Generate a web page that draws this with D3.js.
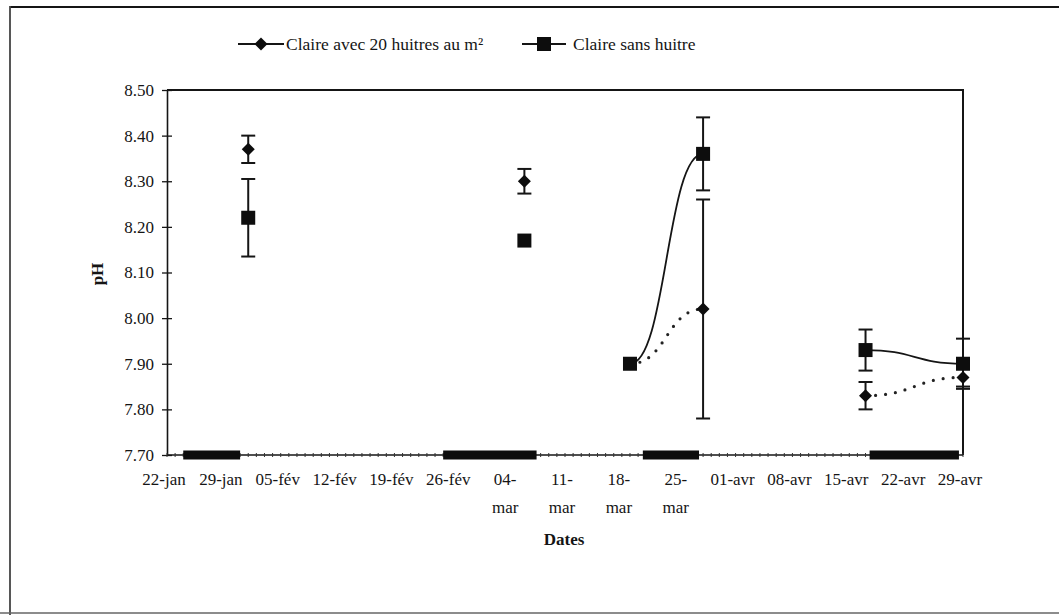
<!DOCTYPE html>
<html>
<head>
<meta charset="utf-8">
<script src="https://cdn.jsdelivr.net/npm/d3@7"></script>
<style>
  body { margin: 0; background: #fff; }
  svg { display: block; }
  text { font-family: "Liberation Serif", "Times New Roman", serif; fill: #151515; }
</style>
</head>
<body>
<svg id="chart" width="1059" height="615"></svg>
<script>
// ---- data ----
const seriesNames = ["Claire avec 20 huitres au m²", "Claire sans huitre"];
const sampleDates = ["2000-02-01", "2000-03-06", "2000-03-19", "2000-03-28", "2000-04-17", "2000-04-29"];
const phOysters   = [8.37, 8.30, 7.90, 8.02, 7.83, 7.87];
const errOysters  = [0.03, 0.027, 0, 0.24, 0.03, 0.02];
const phEmpty     = [8.22, 8.17, 7.90, 8.36, 7.93, 7.90];
const errEmpty    = [0.085, 0, 0, 0.08, 0.045, 0.055];
// sample indices joined by a smoothed line
const linkedGroups = [[2, 3], [4, 5]];
const tickLabels = ["22-jan", "29-jan", "05-fév", "12-fév", "19-fév", "26-fév", "04-mar", "11-mar",
                    "18-mar", "25-mar", "01-avr", "08-avr", "15-avr", "22-avr", "29-avr"];
const yTicks = [7.70, 7.80, 7.90, 8.00, 8.10, 8.20, 8.30, 8.40, 8.50];
// periods marked along the date axis
const periodStart = ["2000-01-24 00", "2000-02-25 00", "2000-03-20 14", "2000-04-17 12"];
const periodEnd   = ["2000-01-31 00", "2000-03-07 12", "2000-03-27 12", "2000-04-28 12"];

// ---- layout ----
const svg = d3.select("#chart");
const W = 1059, H = 615;
const plot = { left: 167, right: 963, top: 90, bottom: 455 };
const parseDay = d3.timeParse("%Y-%m-%d");
const parseHour = d3.timeParse("%Y-%m-%d %H");
const axisStart = parseDay("2000-01-22");
const axisEnd = d3.timeDay.offset(axisStart, 98);

const x = d3.scaleTime().domain([axisStart, axisEnd]).range([plot.left, plot.right]);
const y = d3.scaleLinear().domain([7.70, 8.50]).range([plot.bottom, plot.top]);

const ink = "#151515";

// outer frame of the figure
svg.append("line").attr("x1", 10).attr("x2", W).attr("y1", 7).attr("y2", 7)
  .attr("stroke", ink).attr("stroke-width", 2.2);
svg.append("line").attr("x1", 10).attr("x2", 10).attr("y1", 6).attr("y2", H)
  .attr("stroke", "#444").attr("stroke-width", 1.8);
svg.append("line").attr("x1", 0).attr("x2", W).attr("y1", 613).attr("y2", 613)
  .attr("stroke", "#666").attr("stroke-width", 1.5);

// plot frame: top and right edges
svg.append("path")
  .attr("d", `M${plot.left},${plot.top}H${plot.right}V${plot.bottom}`)
  .attr("fill", "none").attr("stroke", ink).attr("stroke-width", 2);

// ---- y axis ----
const yAxis = d3.axisLeft(y).tickValues(yTicks).tickFormat(d3.format(".2f"))
  .tickSizeInner(5).tickSizeOuter(0).tickPadding(8);
const gy = svg.append("g").attr("transform", `translate(${plot.left},0)`).call(yAxis);
gy.select(".domain").attr("stroke", ink).attr("stroke-width", 1.6);
gy.selectAll(".tick line").attr("stroke", ink).attr("stroke-width", 1.3)
  .attr("x1", -5).attr("x2", 5);
gy.selectAll(".tick text").attr("font-size", 17).attr("fill", ink)
  .attr("font-family", "Liberation Serif, serif").attr("x", -13);

// ---- x axis ----
const weekTicks = d3.range(tickLabels.length).map(i => d3.timeDay.offset(axisStart, 7 * i));
const dayTicks = d3.timeDay.range(axisStart, d3.timeDay.offset(axisEnd, 1));

const gx = svg.append("g");
gx.append("line").attr("x1", plot.left).attr("x2", plot.right)
  .attr("y1", plot.bottom).attr("y2", plot.bottom)
  .attr("stroke", ink).attr("stroke-width", 1.6);
gx.selectAll("line.minor").data(dayTicks).join("line").attr("class", "minor")
  .attr("x1", d => x(d)).attr("x2", d => x(d))
  .attr("y1", plot.bottom - 2).attr("y2", plot.bottom + 2)
  .attr("stroke", "#333").attr("stroke-width", 1);

// period bars lying on the axis
const periods = periodStart.map((s, i) => ({ s: parseHour(s), e: parseHour(periodEnd[i]) }));
gx.selectAll("rect.period").data(periods).join("rect").attr("class", "period")
  .attr("x", d => x(d.s)).attr("width", d => x(d.e) - x(d.s))
  .attr("y", plot.bottom - 4.5).attr("height", 9)
  .attr("fill", "#0d0d0d");

// tick labels, the "-mar" labels wrap onto two lines
const labels = gx.selectAll("text.tl").data(weekTicks).join("text").attr("class", "tl")
  .attr("text-anchor", "middle").attr("font-size", 17);
labels.each(function (d, i) {
  const t = tickLabels[i];
  const lines = t.endsWith("mar") ? [t.slice(0, 3), t.slice(3)] : [t];
  d3.select(this).selectAll("tspan").data(lines).join("tspan")
    .attr("x", x(d) - 3)
    .attr("y", (l, j) => 485 + j * 28)
    .text(l => l);
});

// axis titles
svg.append("text").attr("x", 564).attr("y", 545).attr("text-anchor", "middle")
  .attr("font-size", 17).attr("font-weight", "bold").text("Dates");
svg.append("text").attr("transform", "translate(103,274) rotate(-90)")
  .attr("text-anchor", "middle").attr("font-size", 17).attr("font-weight", "bold").text("pH");

// ---- series ----
const dates = sampleDates.map(parseDay);
const mk = (vals, errs) => dates.map((d, i) => ({ d, v: vals[i], e: errs[i] }));
const oysters = mk(phOysters, errOysters);
const empty = mk(phEmpty, errEmpty);

const line = d3.line().x(p => x(p.d)).y(p => y(p.v)).curve(d3.curveBumpX);

const gLines = svg.append("g");
linkedGroups.forEach(g => {
  gLines.append("path").datum(g.map(i => empty[i])).attr("d", line)
    .attr("fill", "none").attr("stroke", ink).attr("stroke-width", 1.8);
  gLines.append("path").datum(g.map(i => oysters[i])).attr("d", line)
    .attr("fill", "none").attr("stroke", "#222").attr("stroke-width", 3.2)
    .attr("stroke-linecap", "round").attr("stroke-dasharray", "0 10");
});

function errorBars(data) {
  const g = svg.append("g").attr("stroke", ink).attr("stroke-width", 2);
  data.filter(p => p.e > 0).forEach(p => {
    const cx = x(p.d), y1 = y(p.v + p.e), y2 = y(p.v - p.e);
    g.append("line").attr("x1", cx).attr("x2", cx).attr("y1", y1).attr("y2", y2);
    g.append("line").attr("x1", cx - 7).attr("x2", cx + 7).attr("y1", y1).attr("y2", y1);
    g.append("line").attr("x1", cx - 7).attr("x2", cx + 7).attr("y1", y2).attr("y2", y2);
  });
}
errorBars(empty);
errorBars(oysters);

// square-proportioned diamond marker
const diamondPath = "M0,-6.5L6.5,0L0,6.5L-6.5,0Z";
svg.append("g").selectAll("path").data(oysters).join("path")
  .attr("transform", p => `translate(${x(p.d)},${y(p.v)})`)
  .attr("d", diamondPath).attr("fill", "#0d0d0d");

svg.append("g").selectAll("rect").data(empty).join("rect")
  .attr("x", p => x(p.d) - 7).attr("y", p => y(p.v) - 7)
  .attr("width", 14).attr("height", 14).attr("fill", "#0d0d0d");

// ---- legend ----
const legend = svg.append("g").attr("transform", "translate(0,44)");
const lg1 = legend.append("g").attr("transform", "translate(238,0)");
lg1.append("line").attr("x1", 0).attr("x2", 46).attr("stroke", ink).attr("stroke-width", 2);
lg1.append("path").attr("transform", "translate(23,0)").attr("d", diamondPath).attr("fill", "#0d0d0d");
lg1.append("text").attr("x", 48).attr("y", 6).attr("font-size", 17.5).text(seriesNames[0]);

const lg2 = legend.append("g").attr("transform", "translate(522,0)");
lg2.append("line").attr("x1", 0).attr("x2", 44).attr("stroke", ink).attr("stroke-width", 2);
lg2.append("rect").attr("x", 15).attr("y", -7).attr("width", 14).attr("height", 14).attr("fill", "#0d0d0d");
lg2.append("text").attr("x", 51).attr("y", 6).attr("font-size", 17.5).text(seriesNames[1]);
</script>
</body>
</html>
